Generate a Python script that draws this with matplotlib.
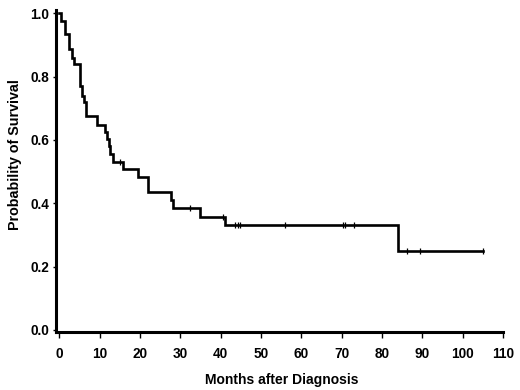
import matplotlib
matplotlib.use("Agg")
import matplotlib.pyplot as plt

# Kaplan-Meier step curve
step_times = [0, 0.5, 1.3, 2.4, 3.1, 3.7, 5.1, 5.5, 6.0, 6.6, 9.4, 11.2, 11.8, 12.2,
              12.6, 13.3, 15.7, 19.4, 21.9, 27.7, 28.2, 35.0, 41.0, 84.0]
step_surv = [1.0, 0.975, 0.935, 0.887, 0.86, 0.84, 0.77, 0.74, 0.72, 0.675, 0.648, 0.625,
             0.604, 0.58, 0.555, 0.53, 0.507, 0.483, 0.436, 0.41, 0.384, 0.357, 0.33, 0.25]
end_time = 105.2

censor_times = [15.1, 32.3, 40.7, 43.6, 44.2, 44.8, 56.0, 70.3, 70.9, 73.0, 86.2, 89.5, 105.2]
censor_surv = [0.53, 0.384, 0.357, 0.33, 0.33, 0.33, 0.33, 0.33, 0.33, 0.33, 0.25, 0.25, 0.25]

x_ticks = list(range(0, 111, 10))
y_ticks = [0.0, 0.2, 0.4, 0.6, 0.8, 1.0]

plt.rcParams['font.family'] = ['Liberation Sans', 'DejaVu Sans']

fig = plt.figure(figsize=(5.2, 3.9), dpi=100)
ax = fig.add_axes([0.108, 0.149, 0.859, 0.825])

xs = step_times + [end_time]
ys = step_surv + [step_surv[-1]]
ax.step(xs, ys, where='post', color='black', linewidth=1.9, solid_joinstyle='miter')
ax.plot(censor_times, censor_surv, linestyle='none', marker='|', markersize=5,
        markeredgewidth=0.9, color='black')

ax.set_xlim(-0.8, 110)
ax.set_ylim(-0.006, 1.01)
ax.set_xticks(x_ticks)
ax.set_yticks(y_ticks)
ax.set_xticklabels([str(t) for t in x_ticks], fontweight='bold', fontsize=9.8)
ax.set_yticklabels([f"{t:.1f}" for t in y_ticks], fontweight='bold', fontsize=9.8)
ax.tick_params(axis='x', direction='out', length=4, width=1, pad=7)
ax.tick_params(axis='y', direction='out', length=2, width=1, pad=3)

for s in ['top', 'right']:
    ax.spines[s].set_visible(False)
for s in ['left', 'bottom']:
    ax.spines[s].set_linewidth(2.2)

ax.set_xlabel('Months after Diagnosis', fontweight='bold', fontsize=10)
ax.set_ylabel('Probability of Survival', fontweight='bold', fontsize=10.3)
ax.xaxis.set_label_coords((281.5 - 56) / 446.7, (332 - 373) / 322)
ax.yaxis.set_label_coords((22 - 56) / 446.7, (332 - 155) / 322)

fig.savefig('out.png', dpi=100)
